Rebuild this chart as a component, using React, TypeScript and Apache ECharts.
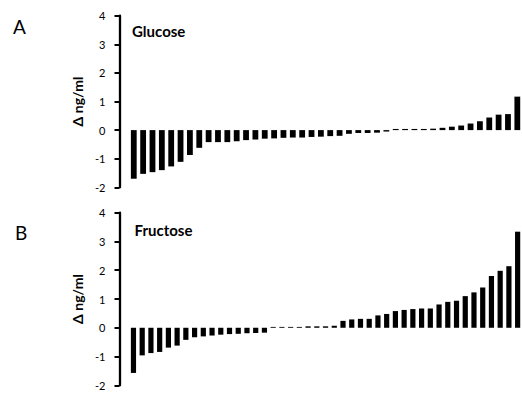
import React, { useEffect, useRef } from "react";
import * as echarts from "echarts";

const glucoseValues = [
  -1.7, -1.53, -1.47, -1.4, -1.27, -1.11, -0.87, -0.62, -0.42, -0.42, -0.42,
  -0.39, -0.35, -0.33, -0.3, -0.29, -0.27, -0.26, -0.26, -0.24, -0.23, -0.21,
  -0.2, -0.13, -0.1, -0.1, -0.09, -0.05, 0.04, 0.04, 0.04, 0.04, 0.05, 0.08,
  0.12, 0.16, 0.23, 0.31, 0.44, 0.54, 0.56, 1.17,
];
const fructoseValues = [
  -1.57, -0.96, -0.88, -0.84, -0.69, -0.62, -0.42, -0.33, -0.3, -0.27, -0.24,
  -0.22, -0.21, -0.19, -0.18, -0.17, 0.03, 0.03, 0.03, 0.03, 0.05, 0.05, 0.05,
  0.07, 0.24, 0.29, 0.31, 0.31, 0.43, 0.48, 0.58, 0.62, 0.65, 0.67, 0.67,
  0.81, 0.9, 0.94, 1.1, 1.23, 1.4, 1.8, 1.98, 2.14, 3.34,
];
const glucoseCategories = glucoseValues.map((_, i) => String(i + 1));
const fructoseCategories = fructoseValues.map((_, i) => String(i + 1));
const panelLabels = ["A", "B"];
const panelTitles = ["Glucose", "Fructose"];
const yAxisName = "Δ ng/ml";
const yMin = -2;
const yMax = 4;
const yInterval = 1;

const FONT = "Lato, 'Open Sans', sans-serif";

export default function App() {
  const ref = useRef<HTMLDivElement>(null);
  useEffect(() => {
    if (!ref.current) return;
    const chart = echarts.init(ref.current, null, { renderer: "svg" });
    const gridLeft = 129.1;
    const gridWidth = 397.5;
    const grids = [
      { left: gridLeft, top: 15.7, width: gridWidth, height: 171.6 },
      { left: gridLeft, top: 212.7, width: gridWidth, height: 172.6 },
    ];
    const yAxisCommon = {
      type: "value",
      min: yMin,
      max: yMax,
      interval: yInterval,
      offset: 9.6,
      name: yAxisName,
      nameLocation: "middle",
      nameGap: 31,
      nameRotate: 90,
      nameTextStyle: {
        fontFamily: FONT,
        fontSize: 14,
        fontWeight: "bold",
        color: "#000",
      },
      axisLine: { show: true, lineStyle: { color: "#000", width: 2.3 } },
      axisTick: { show: true, length: 5, lineStyle: { color: "#000", width: 2 } },
      axisLabel: { margin: 14, fontSize: 11, color: "#000", fontFamily: FONT },
      splitLine: { show: false },
    };
    chart.setOption({
      animation: false,
      backgroundColor: "#fff",
      grid: grids,
      xAxis: [
        { type: "category", gridIndex: 0, data: glucoseCategories, show: false },
        { type: "category", gridIndex: 1, data: fructoseCategories, show: false },
      ],
      yAxis: [
        { ...yAxisCommon, gridIndex: 0 },
        { ...yAxisCommon, gridIndex: 1 },
      ],
      series: [
        {
          type: "bar",
          xAxisIndex: 0,
          yAxisIndex: 0,
          data: glucoseValues,
          barWidth: 5.8,
          itemStyle: { color: "#000" },
        },
        {
          type: "bar",
          xAxisIndex: 1,
          yAxisIndex: 1,
          data: fructoseValues,
          barWidth: 5.2,
          itemStyle: { color: "#000" },
        },
      ],
      graphic: [
        {
          type: "text",
          x: 13,
          y: 26.5,
          style: { text: panelLabels[0], fill: "#000", fontSize: 19, fontFamily: FONT, verticalAlign: "middle", align: "left" },
        },
        {
          type: "text",
          x: 15,
          y: 232,
          style: { text: panelLabels[1], fill: "#000", fontSize: 19, fontFamily: FONT, verticalAlign: "middle", align: "left" },
        },
        {
          type: "text",
          x: 132,
          y: 30.5,
          style: { text: panelTitles[0], fill: "#000", fontSize: 15, fontWeight: "bold", fontFamily: FONT, verticalAlign: "middle", align: "left" },
        },
        {
          type: "text",
          x: 134.5,
          y: 229.5,
          style: { text: panelTitles[1], fill: "#000", fontSize: 15, fontWeight: "bold", fontFamily: FONT, verticalAlign: "middle", align: "left" },
        },
      ],
    });
    return () => chart.dispose();
  }, []);
  return (
    <div
      ref={ref}
      style={{ position: "absolute", left: 0, top: 0, width: 522, height: 394, background: "#fff" }}
    />
  );
}
